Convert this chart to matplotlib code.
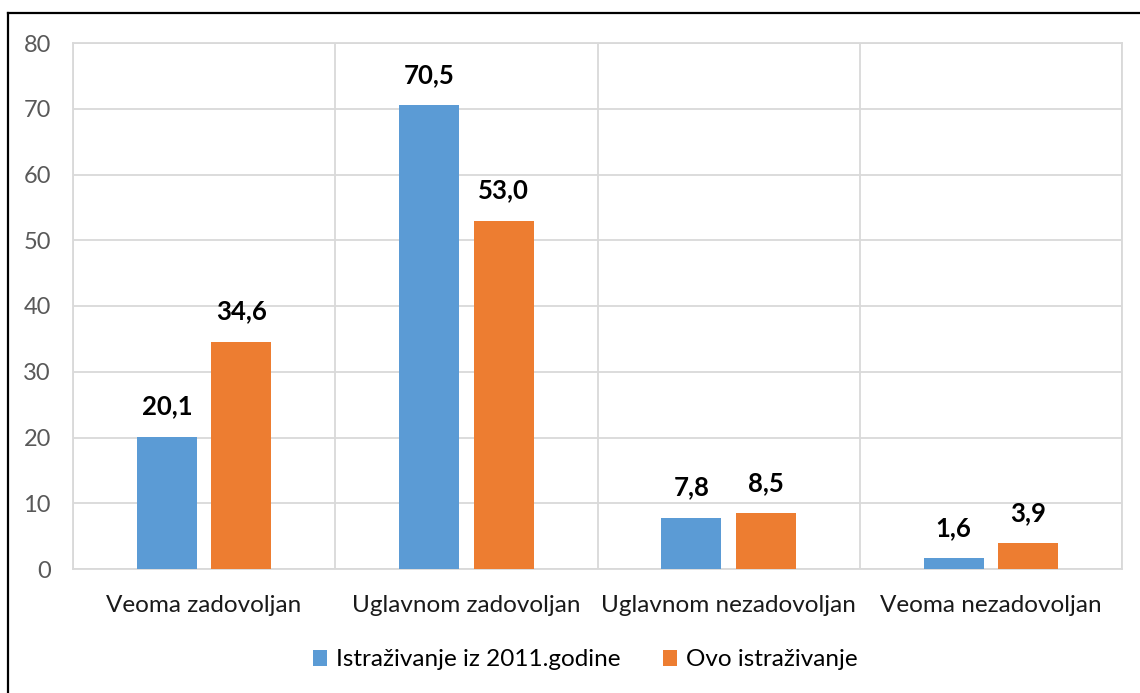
import matplotlib
matplotlib.use("Agg")
import matplotlib.pyplot as plt
import numpy as np
from matplotlib.lines import Line2D

categories = ["Veoma zadovoljan", "Uglavnom zadovoljan", "Uglavnom nezadovoljan", "Veoma nezadovoljan"]
series_names = ["Istraživanje iz 2011.godine", "Ovo istraživanje"]
values_2011 = [20.1, 70.5, 7.8, 1.6]
values_now = [34.6, 53.0, 8.5, 3.9]
yticks = [0, 10, 20, 30, 40, 50, 60, 70, 80]

colors = ["#5B9BD5", "#ED7D31"]
plt.rcParams['font.family'] = ['Lato', 'DejaVu Sans']

W, H = 1140, 693
fig = plt.figure(figsize=(W/100, H/100), dpi=100)
ax = fig.add_axes([73/W, 1-569/H, (1122-73)/W, (569-43)/H])

x = np.arange(len(categories))
bw = 0.228
off = 0.142
b1 = ax.bar(x - off, values_2011, bw, color=colors[0], label=series_names[0], zorder=3)
b2 = ax.bar(x + off, values_now, bw, color=colors[1], label=series_names[1], zorder=3)

for bars, vals in ((b1, values_2011), (b2, values_now)):
    for r, v in zip(bars, vals):
        ax.text(r.get_x() + r.get_width()/2, v + 2.8, f"{v:.1f}".replace(".", ","),
                ha="center", va="bottom", fontsize=18.5, fontweight="bold", color="black")

ax.set_xlim(-0.5, 3.5)
ax.set_ylim(0, 80)
ax.set_yticks(yticks)
ax.set_xticks(x)
ax.set_xticklabels(categories, fontsize=17.5, color="#1a1a1a")
ax.tick_params(axis="y", labelsize=17, labelcolor="#595959", length=0, pad=16)
ax.tick_params(axis="x", length=0, pad=19)
ax.set_xticks(np.arange(-0.5, 3.6, 0.5), minor=True)
ax.tick_params(axis="x", which="minor", length=0)
ax.grid(axis="y", color="#D9D9D9", lw=1.3, zorder=0)
ax.grid(axis="x", which="minor", color="#D9D9D9", lw=1.3, zorder=0)
ax.grid(axis="x", which="major", visible=False)
for s in ax.spines.values():
    s.set_color("#D9D9D9")
    s.set_linewidth(1.3)

leg = fig.legend(handles=[b1, b2], loc="center", bbox_to_anchor=(585/W, 1-660/H),
                 ncol=2, frameon=False, fontsize=17.5, handlelength=0.6, handleheight=0.6,
                 columnspacing=1.75, handletextpad=0.35)

fig.lines.append(Line2D([8/W, 1], [1-13/H, 1-13/H], transform=fig.transFigure, color="black", lw=1.6))
fig.lines.append(Line2D([8/W, 8/W], [0, 1-13/H], transform=fig.transFigure, color="black", lw=1.6))
fig.savefig("out.png", dpi=100)
